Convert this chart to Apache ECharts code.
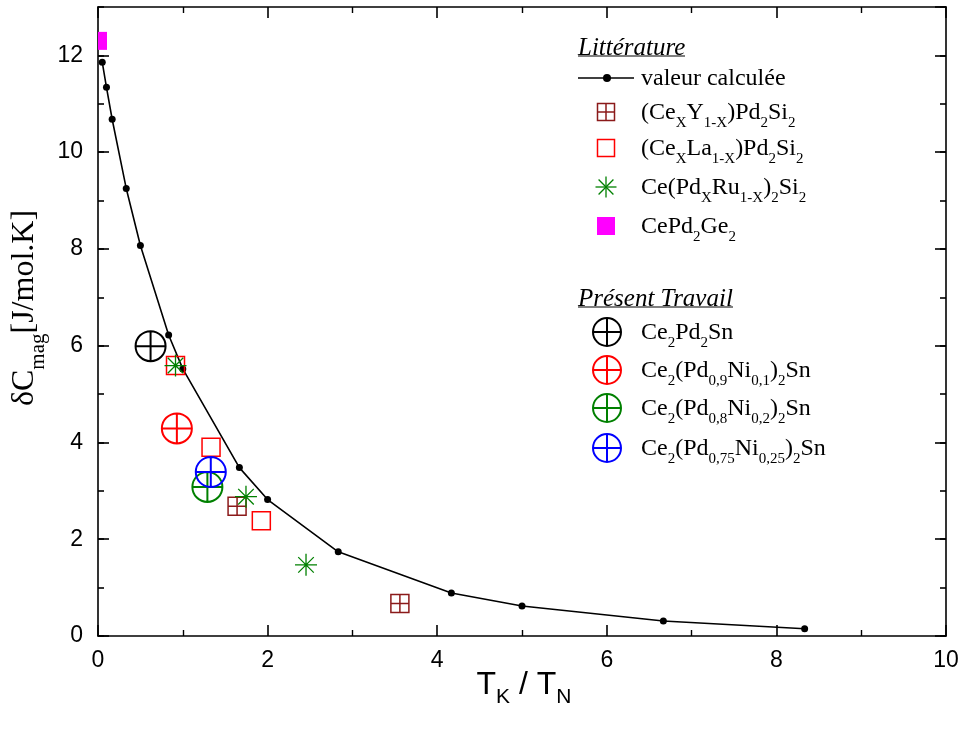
<!DOCTYPE html>
<html><head><meta charset="utf-8">
<script src="https://cdn.jsdelivr.net/npm/echarts@6/dist/echarts.min.js"></script>
<style>html,body{margin:0;padding:0;background:#fff;}#c{width:964px;height:735px;}</style>
</head><body><div id="c"></div>
<script>
// ---- data ----
const calcX = [0.05, 0.1, 0.167, 0.333, 0.5, 0.833, 1.0, 1.667, 2.0, 2.833, 4.167, 5.0, 6.667, 8.333];
const calcY = [11.86, 11.34, 10.68, 9.25, 8.07, 6.22, 5.52, 3.48, 2.82, 1.74, 0.89, 0.62, 0.31, 0.15];
const ceYX = [1.64, 3.56];            const ceYY = [2.68, 0.67];
const ceLaX = [0.914, 1.333, 1.926];  const ceLaY = [5.59, 3.90, 2.38];
const ceRuX = [0.914, 1.745, 2.453];  const ceRuY = [5.59, 2.88, 1.47];
const geX = [0.0];                    const geY = [12.3];
const pd2snX = [0.62];   const pd2snY = [5.99];
const ni01X = [0.93];    const ni01Y = [4.29];
const ni02X = [1.29];    const ni02Y = [3.08];
const ni025X = [1.33];   const ni025Y = [3.39];
const xTicks = [0, 2, 4, 6, 8, 10];
const yTicks = [0, 2, 4, 6, 8, 10, 12];
const litTitle = 'Littérature';
const presTitle = 'Présent Travail';
const litNames = [
  '{m|valeur calculée}',
  '{m|(Ce}{s|X}{m|Y}{s|1-X}{m|)Pd}{s|2}{m|Si}{s|2}',
  '{m|(Ce}{s|X}{m|La}{s|1-X}{m|)Pd}{s|2}{m|Si}{s|2}',
  '{m|Ce(Pd}{s|X}{m|Ru}{s|1-X}{m|)}{s|2}{m|Si}{s|2}',
  '{m|CePd}{s|2}{m|Ge}{s|2}'
];
const presNames = [
  '{m|Ce}{s|2}{m|Pd}{s|2}{m|Sn}',
  '{m|Ce}{s|2}{m|(Pd}{s|0,9}{m|Ni}{s|0,1}{m|)}{s|2}{m|Sn}',
  '{m|Ce}{s|2}{m|(Pd}{s|0,8}{m|Ni}{s|0,2}{m|)}{s|2}{m|Sn}',
  '{m|Ce}{s|2}{m|(Pd}{s|0,75}{m|Ni}{s|0,25}{m|)}{s|2}{m|Sn}'
];

function pairs(xs, ys) { return xs.map((x, i) => [x, ys[i]]); }

const BROWN = '#8B1A1A', RED = '#FF0000', GREEN = '#008000', BLUE = '#0000FF', MAG = '#FF00FF';
const SERIF = '"Liberation Serif", "Times New Roman", serif';
const SANS = '"Liberation Sans", Arial, sans-serif';

const symGridSq = 'path://M0,0L10,0L10,10L0,10ZM5,0L5,10M0,5L10,5';
const symOpenSq = 'path://M0,0L10,0L10,10L0,10Z';
const symStar = 'path://M0,-10L0,10M-10,0L10,0M-7.07,-7.07L7.07,7.07M-7.07,7.07L7.07,-7.07';
const symCirc = 'path://M-10,0A10,10 0 1,0 10,0A10,10 0 1,0 -10,0ZM-10,0L10,0M0,-10L0,10';

function scat(name, data, sym, size, color, bw) {
  return { name, type: 'scatter', data, symbol: sym, symbolSize: size,
    itemStyle: { color: 'rgba(0,0,0,0)', borderColor: color, borderWidth: bw, opacity: 1 },
    xAxisIndex: 0, yAxisIndex: 0, z: 3 };
}

// rich text helper: main font mf, sub font sf, sub lowered by off px
function richSub(family, mf, sf, off) {
  const L = off + mf / 2 + sf / 2;
  return {
    m: { fontSize: mf, fontFamily: family, lineHeight: L, verticalAlign: 'top', color: '#000' },
    s: { fontSize: sf, fontFamily: family, lineHeight: L, verticalAlign: 'bottom', color: '#000' },
    _shift: L / 2 - mf / 2
  };
}

// ---- legend graphics ----
const legRich = richSub(SERIF, 24, 15, 10);
const legShift = legRich._shift; delete legRich._shift;
const g = [];
function txt(x, y, text, rich) {
  g.push({ type: 'text', x, y, style: { text, rich, align: 'left', verticalAlign: 'middle' }, z: 10 });
}
function line(x1, y1, x2, y2, color, w) {
  g.push({ type: 'line', shape: { x1, y1, x2, y2 }, style: { stroke: color, lineWidth: w }, z: 10 });
}
function sq(cx, cy, s, color, grid) {
  g.push({ type: 'rect', shape: { x: cx - s / 2, y: cy - s / 2, width: s, height: s }, style: { fill: null, stroke: color, lineWidth: 1.5 }, z: 10 });
  if (grid) { line(cx, cy - s / 2, cx, cy + s / 2, color, 1.5); line(cx - s / 2, cy, cx + s / 2, cy, color, 1.5); }
}
function star(cx, cy, r, color) {
  const d = r * 0.707;
  line(cx, cy - r, cx, cy + r, color, 1.3); line(cx - r, cy, cx + r, cy, color, 1.3);
  line(cx - d, cy - d, cx + d, cy + d, color, 1.3); line(cx - d, cy + d, cx + d, cy - d, color, 1.3);
}
function circ(cx, cy, r, color) {
  g.push({ type: 'circle', shape: { cx, cy, r }, style: { fill: null, stroke: color, lineWidth: 2 }, z: 10 });
  line(cx - r, cy, cx + r, cy, color, 2); line(cx, cy - r, cx, cy + r, color, 2);
}
const TX = 641, IX = 607;
// titles
g.push({ type: 'text', x: 578, y: 48, style: { text: litTitle, font: 'italic 25px ' + SERIF, fill: '#000', align: 'left', verticalAlign: 'middle' }, z: 10 });
line(578, 56, 685, 56, '#000', 1.2);
g.push({ type: 'text', x: 578, y: 299, style: { text: presTitle, font: 'italic 25px ' + SERIF, fill: '#000', align: 'left', verticalAlign: 'middle' }, z: 10 });
line(578, 307, 733, 307, '#000', 1.2);
// literature items
const litRows = [78, 112, 148, 187, 226];
line(578, litRows[0], 634, litRows[0], '#000', 1.6);
g.push({ type: 'circle', shape: { cx: IX, cy: litRows[0], r: 4 }, style: { fill: '#000' }, z: 10 });
sq(IX - 1, litRows[1], 17, BROWN, true);
sq(IX - 1, litRows[2], 17, RED, false);
star(IX - 1, litRows[3], 10.5, GREEN);
g.push({ type: 'rect', shape: { x: IX - 10, y: litRows[4] - 9, width: 18, height: 18 }, style: { fill: MAG }, z: 10 });
litNames.forEach((t, i) => txt(TX, litRows[i] + 1 + legShift, t, legRich));
// present work items
const presRows = [332, 370, 408, 448];
const presCols = ['#000', RED, GREEN, BLUE];
presRows.forEach((y, i) => { circ(IX, y, 14, presCols[i]); txt(TX, y + 1 + legShift, presNames[i], legRich); });

// axis titles
const xRich = richSub(SANS, 32, 21, 12);
const xShift = xRich._shift; delete xRich._shift;
g.push({ type: 'text', x: 524, y: 685 + xShift, style: {
  text: '{m|T}{s|K}{m| / T}{s|N}', align: 'center', verticalAlign: 'middle', rich: xRich }, z: 10 });
const yRich = richSub(SERIF, 32, 21, 13);
const yShift = yRich._shift; delete yRich._shift;
g.push({ type: 'text', x: 25 + yShift, y: 308, rotation: Math.PI / 2, style: {
  text: '{m|δC}{s|mag}{m|[J/mol.K]}', align: 'center', verticalAlign: 'middle', rich: yRich }, z: 10 });

// ---- axes ----
const AX = { lineStyle: { color: '#000', width: 1.6 } };
function xAx(pos, labels) {
  return { type: 'value', position: pos, min: xTicks[0], max: xTicks[xTicks.length - 1], interval: 2,
    axisLine: { show: true, onZero: false, ...AX },
    axisTick: { show: true, inside: true, length: 11, lineStyle: { color: '#000', width: 1.6 } },
    minorTick: { show: true, splitNumber: 2, length: 6, lineStyle: { color: '#000', width: 1.4 } },
    axisLabel: { show: labels, fontSize: 23, fontFamily: SANS, color: '#000', margin: 13 },
    splitLine: { show: false }, minorSplitLine: { show: false } };
}
function yAx(pos, interval, len, labels, lineShow) {
  return { type: 'value', position: pos, min: 0, max: 13, interval,
    axisLine: { show: lineShow, onZero: false, ...AX },
    axisTick: { show: true, inside: true, length: len, lineStyle: { color: '#000', width: 1.6 } },
    axisLabel: { show: labels, fontSize: 23, fontFamily: SANS, color: '#000', margin: 15, showMaxLabel: false,
      formatter: v => (yTicks.indexOf(v) >= 0 ? String(v) : '') },
    splitLine: { show: false } };
}

const option = {
  animation: false,
  backgroundColor: '#fff',
  grid: { left: 98, right: 18, top: 7, bottom: 99, containLabel: false },
  xAxis: [xAx('bottom', true), xAx('top', false)],
  yAxis: [yAx('left', 2, 11, true, true), yAx('left', 1, 6, false, false), yAx('right', 2, 11, false, true), yAx('right', 1, 6, false, false)],
  series: [
    { name: 'valeur calculée', type: 'line', data: pairs(calcX, calcY), symbol: 'circle', symbolSize: 7, showAllSymbol: true,
      lineStyle: { color: '#000', width: 1.6 }, itemStyle: { color: '#000' }, z: 2 },
    scat('(CeXY1-X)Pd2Si2', pairs(ceYX, ceYY), symGridSq, 18, BROWN, 1.5),
    scat('(CeXLa1-X)Pd2Si2', pairs(ceLaX, ceLaY), symOpenSq, 18, RED, 1.5),
    scat('Ce(PdXRu1-X)2Si2', pairs(ceRuX, ceRuY), symStar, 22, GREEN, 1.3),
    { name: 'CePd2Ge2', type: 'custom', data: pairs(geX, geY), z: 3,
      renderItem: function (params, api) {
        const p = api.coord([api.value(0), api.value(1)]);
        const s = 18;
        const cs = params.coordSys;
        const r = echarts.graphic.clipRectByRect({ x: p[0] - s / 2, y: p[1] - s / 2, width: s, height: s },
          { x: cs.x, y: cs.y, width: cs.width, height: cs.height });
        return r ? { type: 'rect', shape: r, style: { fill: MAG } } : null;
      } },
    scat('Ce2Pd2Sn', pairs(pd2snX, pd2snY), symCirc, 30, '#000', 2),
    scat('Ce2(Pd0,9Ni0,1)2Sn', pairs(ni01X, ni01Y), symCirc, 30, RED, 2),
    scat('Ce2(Pd0,8Ni0,2)2Sn', pairs(ni02X, ni02Y), symCirc, 30, GREEN, 2),
    scat('Ce2(Pd0,75Ni0,25)2Sn', pairs(ni025X, ni025Y), symCirc, 30, BLUE, 2)
  ],
  graphic: g
};
const chart = echarts.init(document.getElementById('c'), null, { renderer: 'canvas' });
chart.setOption(option);
</script></body></html>
